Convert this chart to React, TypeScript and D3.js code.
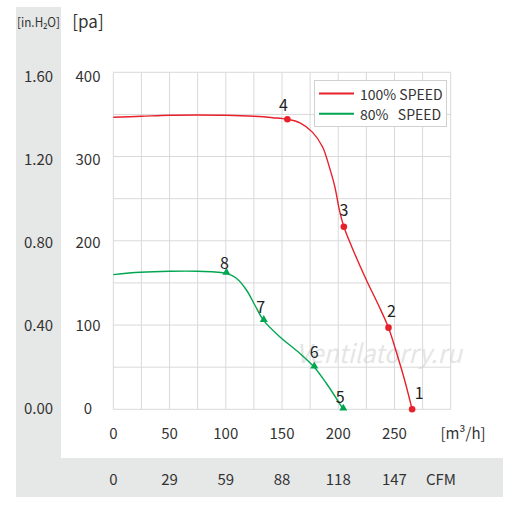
import React, { useEffect, useRef } from "react";
import * as d3 from "d3";

// axis ticks
const flowTicks = [0, 50, 100, 150, 200, 250];
const cfmLabels = ["0", "29", "59", "88", "118", "147"];
const paTicks = [0, 100, 200, 300, 400];
const inH2OLabels = ["0.00", "0.40", "0.80", "1.20", "1.60"];

// 100% speed curve (m3/h, pa)
const flow100 = [0, 25, 50, 75, 100, 125, 142, 154.8, 166, 177, 186, 192, 197, 201, 205, 212, 225, 235, 244.7, 252, 259, 265.7];
const pa100 = [346.6, 347.8, 349, 349.3, 349, 347.8, 346.1, 344.2, 340, 329, 311.7, 288, 264, 236.6, 216.7, 193, 153.5, 125.8, 96.9, 66.5, 34.8, 0];

// 80% speed curve
const flow80 = [0, 24, 50, 75, 100.6, 109.5, 118.4, 125.8, 133.8, 148, 165.7, 178.7, 189.4, 204.5];
const pa80 = [159.8, 162.6, 163.8, 163.8, 161.4, 155.5, 141.6, 123.8, 105.2, 86.2, 66.5, 49.9, 30.9, 0];

// numbered operating points
const points100 = [
  { n: "1", q: 265.7, p: 0 },
  { n: "2", q: 244.7, p: 96.9 },
  { n: "3", q: 205, p: 216.7 },
  { n: "4", q: 154.8, p: 344.2 },
];
const points80 = [
  { n: "5", q: 204.5, p: 0 },
  { n: "6", q: 178.7, p: 49.9 },
  { n: "7", q: 133.8, p: 105.2 },
  { n: "8", q: 100.6, p: 161.4 },
];

const App: React.FC = () => {
  const svgRef = useRef<SVGSVGElement>(null);
  const width = 526;
  const height = 509;

  useEffect(() => {
    if (!svgRef.current) return;
    const svg = d3.select(svgRef.current);
    svg.selectAll("*").remove();

    const font = "'Noto Sans CJK SC', 'Noto Sans', sans-serif";
    const red = "#e8202a";
    const green = "#00a651";
    const grey = "#e6e7e7";
    const textColor = "#333";

    const left = 113.3;
    const right = 450.7;
    const top = 72.3;
    const bottom = 409.3;

    const x = d3.scaleLinear().domain([0, 300]).range([left, right]);
    const y = d3.scaleLinear().domain([0, 400]).range([bottom, top]);
    // the pressure labels sit a little inside the grid range
    const yLabel = d3.scaleLinear().domain([0, 400]).range([407, 75]);

    svg.attr("font-family", font);

    // grey bands
    svg.append("rect").attr("x", 16).attr("y", 7).attr("width", 45).attr("height", 490).attr("fill", grey);
    svg.append("rect").attr("x", 16).attr("y", 458).attr("width", 487).attr("height", 39).attr("fill", grey);

    // grid
    const grid = svg.append("g").attr("stroke", "#d9d9d9").attr("stroke-width", 1);
    grid
      .selectAll("line.v")
      .data(d3.range(0, 301, 25))
      .join("line")
      .attr("x1", (d) => x(d))
      .attr("x2", (d) => x(d))
      .attr("y1", top)
      .attr("y2", bottom);
    grid
      .selectAll("line.h")
      .data(d3.range(0, 401, 50))
      .join("line")
      .attr("x1", left)
      .attr("x2", right)
      .attr("y1", (d) => y(d))
      .attr("y2", (d) => y(d));

    // y labels
    svg
      .append("g")
      .selectAll("text")
      .data(paTicks)
      .join("text")
      .attr("x", 88)
      .attr("y", (d) => yLabel(d))
      .attr("text-anchor", "middle")
      .attr("dominant-baseline", "central")
      .attr("font-size", 15)
      .attr("fill", textColor)
      .text((d) => d);
    svg
      .append("g")
      .selectAll("text")
      .data(inH2OLabels)
      .join("text")
      .attr("x", 38.5)
      .attr("y", (d, i) => yLabel(paTicks[i]))
      .attr("text-anchor", "middle")
      .attr("dominant-baseline", "central")
      .attr("font-size", 15)
      .attr("fill", textColor)
      .text((d) => d);

    // headers
    svg
      .append("text")
      .attr("x", 17)
      .attr("y", 27)
      .attr("font-size", 13)
      .attr("fill", textColor)
      .attr("textLength", 43)
      .attr("lengthAdjust", "spacingAndGlyphs")
      .text("[in.H\u2082O]");
    svg
      .append("text")
      .attr("x", 88)
      .attr("y", 28)
      .attr("text-anchor", "middle")
      .attr("font-size", 17)
      .attr("fill", textColor)
      .text("[pa]");

    // x labels
    svg
      .append("g")
      .selectAll("text")
      .data(flowTicks)
      .join("text")
      .attr("x", (d) => x(d))
      .attr("y", 432)
      .attr("text-anchor", "middle")
      .attr("dominant-baseline", "central")
      .attr("font-size", 15)
      .attr("fill", textColor)
      .text((d) => d);
    svg
      .append("text")
      .attr("x", 463)
      .attr("y", 432)
      .attr("text-anchor", "middle")
      .attr("dominant-baseline", "central")
      .attr("font-size", 15)
      .attr("fill", textColor)
      .text("[m\u00b3/h]");

    svg
      .append("g")
      .selectAll("text")
      .data(cfmLabels)
      .join("text")
      .attr("x", (d, i) => x(flowTicks[i]))
      .attr("y", 478)
      .attr("text-anchor", "middle")
      .attr("dominant-baseline", "central")
      .attr("font-size", 15)
      .attr("fill", textColor)
      .text((d) => d);
    svg
      .append("text")
      .attr("x", 441)
      .attr("y", 478)
      .attr("text-anchor", "middle")
      .attr("dominant-baseline", "central")
      .attr("font-size", 15)
      .attr("fill", textColor)
      .text("CFM");

    // watermark
    svg
      .append("text")
      .attr("x", 296)
      .attr("y", 363)
      .attr("font-size", 26)
      .attr("font-style", "italic")
      .attr("fill", "#d4d4d4")
      .attr("fill-opacity", 0.6)
      .attr("textLength", 166)
      .attr("lengthAdjust", "spacingAndGlyphs")
      .text("Ventilatorry.ru");

    // curves
    const line = d3
      .line<[number, number]>()
      .x((d) => x(d[0]))
      .y((d) => y(d[1]))
      .curve(d3.curveCatmullRom.alpha(0.5));

    svg
      .append("path")
      .datum(flow100.map((q, i) => [q, pa100[i]] as [number, number]))
      .attr("fill", "none")
      .attr("stroke", red)
      .attr("stroke-width", 1.4)
      .attr("d", line);
    svg
      .append("path")
      .datum(flow80.map((q, i) => [q, pa80[i]] as [number, number]))
      .attr("fill", "none")
      .attr("stroke", green)
      .attr("stroke-width", 1.4)
      .attr("d", line);

    // markers
    svg
      .append("g")
      .selectAll("circle")
      .data(points100)
      .join("circle")
      .attr("cx", (d) => x(d.q))
      .attr("cy", (d) => y(d.p))
      .attr("r", 3.3)
      .attr("fill", red);
    const tri = d3.symbol().type(d3.symbolTriangle).size(28);
    svg
      .append("g")
      .selectAll("path")
      .data(points80)
      .join("path")
      .attr("transform", (d) => `translate(${x(d.q)},${y(d.p) - 1})`)
      .attr("d", tri)
      .attr("fill", green);

    // point numbers
    const offsets: Record<string, [number, number]> = {
      "1": [7, -17],
      "2": [3, -18],
      "3": [0, -18],
      "4": [-4, -15],
      "5": [-3, -13],
      "6": [0, -16],
      "7": [-3, -15],
      "8": [-2, -11],
    };
    svg
      .append("g")
      .selectAll("text")
      .data([...points100, ...points80])
      .join("text")
      .attr("x", (d) => x(d.q) + offsets[d.n][0])
      .attr("y", (d) => y(d.p) + offsets[d.n][1])
      .attr("text-anchor", "middle")
      .attr("dominant-baseline", "central")
      .attr("font-size", 16)
      .attr("fill", "#222")
      .text((d) => d.n);

    // legend
    const lg = svg.append("g");
    lg.append("rect")
      .attr("x", 314.5)
      .attr("y", 80.5)
      .attr("width", 132)
      .attr("height", 46)
      .attr("fill", "#fff")
      .attr("stroke", "#d0d0d0");
    const items = [
      { label: "100% SPEED", color: red },
      { label: "80%\u00a0\u00a0 SPEED", color: green },
    ];
    items.forEach((it, i) => {
      const cy = 93.5 + i * 20.3;
      lg.append("line")
        .attr("x1", 319)
        .attr("x2", 354)
        .attr("y1", cy)
        .attr("y2", cy)
        .attr("stroke", it.color)
        .attr("stroke-width", 2);
      lg.append("text")
        .attr("x", 360)
        .attr("y", cy)
        .attr("dominant-baseline", "central")
        .attr("font-size", 14)
        .attr("fill", textColor)
        .text(it.label);
    });
  }, []);

  return (
    <svg
      ref={svgRef}
      width={width}
      height={height}
      style={{ position: "absolute", left: 0, top: 0, background: "#fff" }}
    />
  );
};

export default App;
